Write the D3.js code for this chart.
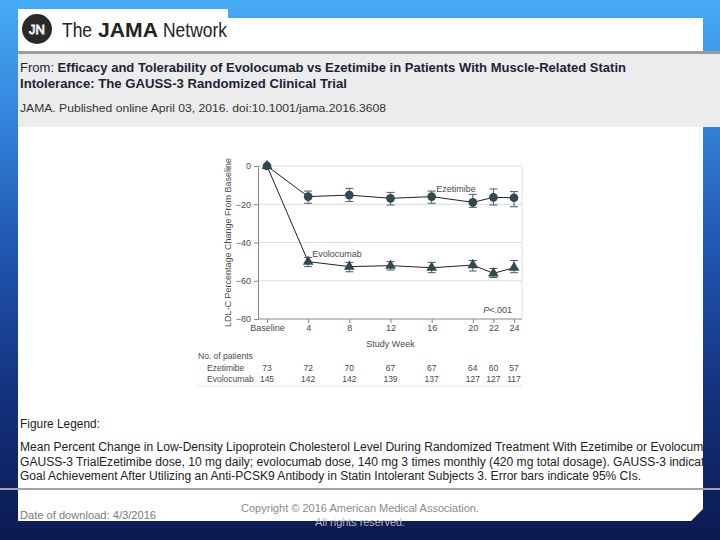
<!DOCTYPE html>
<html><head><meta charset="utf-8">
<script src="https://cdn.jsdelivr.net/npm/d3@7"></script>
<style>html,body{margin:0;padding:0;background:#0b1850;overflow:hidden}</style>
</head><body>
<svg id="c" width="720" height="540"></svg>
<script>
// ---- data ----
const weeks = [0, 4, 8, 12, 16, 20, 22, 24];
const weekLabels = ["Baseline", "4", "8", "12", "16", "20", "22", "24"];
const ezeMean = [0, -16.0, -15.2, -16.9, -16.0, -19.0, -16.4, -16.6];
const ezeLo   = [0, -19.5, -18.6, -20.4, -19.5, -21.6, -20.4, -21.3];
const ezeHi   = [0, -13.1, -11.7, -13.8, -13.1, -14.8, -12.0, -13.4];
const evoMean = [0, -50.0, -52.6, -52.1, -53.2, -51.8, -56.1, -53.2];
const evoLo   = [0, -52.6, -55.3, -54.4, -55.8, -54.9, -58.3, -55.8];
const evoHi   = [0, -47.8, -50.4, -50.0, -50.4, -49.4, -53.6, -49.4];
const ezeN = [73, 72, 70, 67, 67, 64, 60, 57];
const evoN = [145, 142, 142, 139, 137, 127, 127, 117];
const yTicks = [0, -20, -40, -60, -80];
const seriesNames = ["Ezetimibe", "Evolocumab"];

const svg = d3.select("#c");
const defs = svg.append("defs");
const bg = defs.append("linearGradient").attr("id", "bg")
  .attr("gradientUnits", "userSpaceOnUse").attr("x1", 0).attr("y1", 0).attr("x2", 0).attr("y2", 540);
[[0, "#46abf5"], [0.2, "#3587de"], [0.45, "#2158b4"], [0.72, "#14337f"], [1, "#0b1a52"]]
  .forEach(([o, c]) => bg.append("stop").attr("offset", o).attr("stop-color", c));

svg.append("rect").attr("width", 720).attr("height", 540).attr("fill", "url(#bg)");

// header boxes
svg.append("rect").attr("x", 18).attr("y", 9).attr("width", 210).attr("height", 42).attr("fill", "#fff");
svg.append("rect").attr("x", 18).attr("y", 18).attr("width", 685).attr("height", 33).attr("fill", "#fff");
svg.append("rect").attr("x", 18).attr("y", 51).attr("width", 702).attr("height", 3).attr("fill", "#9c9c9c");
svg.append("rect").attr("x", 18).attr("y", 54).attr("width", 702).attr("height", 73).attr("fill", "#ececec");
// main white
svg.append("rect").attr("x", 18).attr("y", 127).attr("width", 685).attr("height", 362).attr("fill", "#fff");
svg.append("path").attr("d", "M18,489 L703,489 L703,509 L691,521 L18,521 Z").attr("fill", "#fff");

// logo
svg.append("circle").attr("cx", 37).attr("cy", 29).attr("r", 15).attr("fill", "#2a2a2a");
svg.append("text").attr("x", 37).attr("y", 34).attr("text-anchor", "middle")
  .attr("font-family", "Liberation Sans").attr("font-size", 13).attr("fill", "none")
  .attr("stroke", "#fff").attr("stroke-width", 0.9).text("JN");
const logoParts = [["The", 62, 30, "normal"], ["JAMA", 98, 60, "bold"], ["Network", 163, 64, "normal"]];
logoParts.forEach(([s, xx, w, fw]) => svg.append("text").attr("x", xx).attr("y", 37)
  .attr("font-family", "Liberation Sans").attr("font-size", 21).attr("font-weight", fw).attr("fill", "#222")
  .attr("textLength", w).attr("lengthAdjust", "spacingAndGlyphs").text(s));

// header text
const h1 = svg.append("text").attr("x", 20).attr("y", 72).attr("font-family", "Liberation Sans")
  .attr("font-size", 12.5).attr("fill", "#1b2634").attr("textLength", 606).attr("lengthAdjust", "spacingAndGlyphs");
h1.append("tspan").text("From: ");
h1.append("tspan").attr("font-weight", "bold").text("Efficacy and Tolerability of Evolocumab vs Ezetimibe in Patients With Muscle-Related Statin");
svg.append("text").attr("x", 20).attr("y", 88).attr("font-family", "Liberation Sans").attr("font-weight", "bold")
  .attr("font-size", 12.5).attr("fill", "#1b2634").attr("textLength", 327).attr("lengthAdjust", "spacingAndGlyphs")
  .text("Intolerance:  The GAUSS-3 Randomized Clinical Trial");
svg.append("text").attr("x", 20).attr("y", 112).attr("font-family", "Liberation Sans")
  .attr("font-size", 11.5).attr("fill", "#333").attr("textLength", 366).attr("lengthAdjust", "spacingAndGlyphs")
  .text("JAMA. Published online  April 03, 2016. doi:10.1001/jama.2016.3608");

// ---- chart ----
const x = d3.scaleLinear().domain([0, 24]).range([267, 514]);
const y = d3.scaleLinear().domain([0, -80]).range([166, 319]);
const xL = 258, xR = 522;
const g = svg.append("g");
const txtCol = "#4a4a4a";

// grid + frame
g.selectAll(".grid").data(yTicks.slice(0, 4)).join("line")
  .attr("x1", xL).attr("x2", xR).attr("y1", d => y(d)).attr("y2", d => y(d))
  .attr("stroke", "#dcdcdc").attr("stroke-width", 1);
g.append("line").attr("x1", xR).attr("x2", xR).attr("y1", y(0)).attr("y2", y(-80)).attr("stroke", "#dcdcdc");

const yAxis = g.append("g").attr("transform", `translate(${xL},0)`)
  .call(d3.axisLeft(y).tickValues(yTicks).tickSize(4).tickPadding(3).tickFormat(d3.format("d")));
yAxis.select(".domain").attr("stroke", "#888");
yAxis.selectAll(".tick line").attr("stroke", "#888");
yAxis.selectAll("text").attr("font-family", "Liberation Sans").attr("font-size", 9).attr("fill", txtCol);

const xAxis = g.append("g").attr("transform", `translate(0,${y(-80)})`)
  .call(d3.axisBottom(x).tickValues(weeks).tickSize(4).tickPadding(2).tickFormat((d, i) => weekLabels[i]));
xAxis.select(".domain").remove();
xAxis.selectAll(".tick line").attr("stroke", "#888");
xAxis.selectAll("text").attr("font-family", "Liberation Sans").attr("font-size", 9).attr("fill", txtCol);
g.append("line").attr("x1", xL).attr("x2", xR).attr("y1", y(-80)).attr("y2", y(-80)).attr("stroke", "#888");

g.append("text").attr("transform", `translate(231,${(y(0) + y(-80)) / 2}) rotate(-90)`)
  .attr("text-anchor", "middle").attr("font-family", "Liberation Sans").attr("font-size", 9).attr("fill", txtCol)
  .text("LDL-C Percentage Change From Baseline");
g.append("text").attr("x", x(12)).attr("y", 347).attr("text-anchor", "middle")
  .attr("font-family", "Liberation Sans").attr("font-size", 9).attr("fill", txtCol).text("Study Week");

const markCol = "#2e4a52";
const line = d3.line().x(d => x(d[0])).y(d => y(d[1]));
function drawSeries(mean, lo, hi, shape) {
  const pts = weeks.map((w, i) => [w, mean[i], lo[i], hi[i]]);
  g.append("path").datum(pts).attr("d", line).attr("fill", "none").attr("stroke", "#222").attr("stroke-width", 1);
  const eb = g.append("g");
  pts.filter(p => p[0] > 0).forEach(p => {
    eb.append("line").attr("x1", x(p[0])).attr("x2", x(p[0])).attr("y1", y(p[2])).attr("y2", y(p[3])).attr("stroke", "#555");
    [p[2], p[3]].forEach(v => eb.append("line").attr("x1", x(p[0]) - 4).attr("x2", x(p[0]) + 4)
      .attr("y1", y(v)).attr("y2", y(v)).attr("stroke", "#555"));
  });
  g.append("g").selectAll("path").data(pts).join("path")
    .attr("transform", p => `translate(${x(p[0])},${y(p[1])})`)
    .attr("d", d3.symbol().type(shape).size(shape === d3.symbolCircle ? 60 : 50))
    .attr("fill", markCol);
}
drawSeries(evoMean, evoLo, evoHi, d3.symbolTriangle);
drawSeries(ezeMean, ezeLo, ezeHi, d3.symbolCircle);

g.append("text").attr("x", 456).attr("y", 192).attr("text-anchor", "middle")
  .attr("font-family", "Liberation Sans").attr("font-size", 9).attr("fill", txtCol).text(seriesNames[0]);
g.append("text").attr("x", 337).attr("y", 257).attr("text-anchor", "middle")
  .attr("font-family", "Liberation Sans").attr("font-size", 9).attr("fill", txtCol).text(seriesNames[1]);
const pt = g.append("text").attr("x", 512).attr("y", 313).attr("text-anchor", "end")
  .attr("font-family", "Liberation Sans").attr("font-size", 9).attr("fill", txtCol);
pt.append("tspan").attr("font-style", "italic").text("P");
pt.append("tspan").text("<.001");

// table
const tf = { "font-family": "Liberation Sans", "font-size": 8.5, "fill": txtCol };
function T(xx, yy, s, anchor) {
  const t = g.append("text").attr("x", xx).attr("y", yy).attr("text-anchor", anchor || "start").text(s);
  Object.entries(tf).forEach(([k, v]) => t.attr(k, v));
}
T(198, 359, "No. of patients");
T(207, 371, seriesNames[0]);
T(207, 382, seriesNames[1]);
weeks.forEach((w, i) => { T(x(w), 371, ezeN[i], "middle"); T(x(w), 382, evoN[i], "middle"); });
g.append("line").attr("x1", 198).attr("x2", 522).attr("y1", 386).attr("y2", 386).attr("stroke", "#e6e6e6");

// legend text
const lf = (sel) => sel.attr("font-family", "Liberation Sans").attr("font-size", 12).attr("fill", "#222")
  .attr("lengthAdjust", "spacingAndGlyphs");
lf(svg.append("text").attr("x", 20).attr("y", 428)).attr("textLength", 80).text("Figure Legend:");
lf(svg.append("text").attr("x", 20).attr("y", 451)).attr("textLength", 700)
  .text("Mean Percent Change in Low-Density Lipoprotein Cholesterol Level During Randomized Treatment With Ezetimibe or Evolocumab,");
lf(svg.append("text").attr("x", 20).attr("y", 466)).attr("textLength", 697)
  .text("GAUSS-3 TrialEzetimibe dose, 10 mg daily; evolocumab dose, 140 mg 3 times monthly (420 mg total dosage). GAUSS-3 indicates");
lf(svg.append("text").attr("x", 20).attr("y", 480)).attr("textLength", 621)
  .text("Goal Achievement After Utilizing an Anti-PCSK9 Antibody in Statin Intolerant Subjects 3. Error bars indicate 95% CIs.");

// right strip overlay (text beyond white box shows faintly)
svg.append("rect").attr("x", 703).attr("y", 127).attr("width", 17).attr("height", 362)
  .attr("fill", "url(#bg)").attr("opacity", 0.82);
svg.append("rect").attr("x", 0).attr("y", 488).attr("width", 720).attr("height", 2).attr("fill", "#a3a3a3");

// footer
svg.append("text").attr("x", 20).attr("y", 519).attr("font-family", "Liberation Sans").attr("font-size", 11)
  .attr("fill", "#7a7a7a").attr("textLength", 136).attr("lengthAdjust", "spacingAndGlyphs").text("Date of download:  4/3/2016");
svg.append("text").attr("x", 360).attr("y", 512).attr("text-anchor", "middle").attr("font-family", "Liberation Sans")
  .attr("font-size", 11).attr("fill", "#8a8a8a").attr("textLength", 238).attr("lengthAdjust", "spacingAndGlyphs")
  .text("Copyright © 2016 American Medical Association.");
svg.append("text").attr("x", 360).attr("y", 526).attr("text-anchor", "middle").attr("font-family", "Liberation Sans")
  .attr("font-size", 11).attr("fill", "#b8b8b8").attr("textLength", 90).attr("lengthAdjust", "spacingAndGlyphs")
  .text("All rights reserved.");
</script>
</body></html>
